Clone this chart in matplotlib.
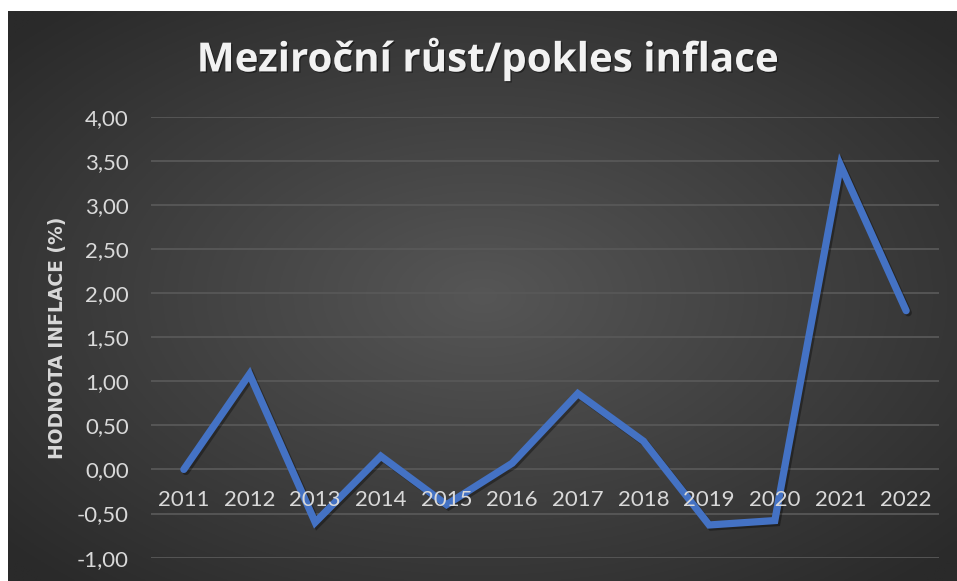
import numpy as np
import matplotlib
matplotlib.use("Agg")
import matplotlib.pyplot as plt
import matplotlib.patheffects as pe

years = ["2011", "2012", "2013", "2014", "2015", "2016",
         "2017", "2018", "2019", "2020", "2021", "2022"]
inflation = [0.00, 1.08, -0.60, 0.15, -0.40, 0.07,
             0.86, 0.32, -0.63, -0.58, 3.45, 1.80]
yticks = [-1.0, -0.5, 0.0, 0.5, 1.0, 1.5, 2.0, 2.5, 3.0, 3.5, 4.0]
title = "Meziroční růst/pokles inflace"
ylabel = "HODNOTA INFLACE (%)"

W, H = 957, 581
fig = plt.figure(figsize=(W / 100, H / 100), dpi=100, facecolor="white")

# dark radial gradient background
bg = fig.add_axes([8 / W, 0, (W - 8) / W, (H - 11) / H])
bg.set_axis_off()
gx, gy = np.meshgrid(np.linspace(-1, 1, 400), np.linspace(-1, 1, 300))
r = np.sqrt(gx ** 2 + gy ** 2)
r = np.clip(r / 1.35, 0, 1)
c0, c1 = 0x56 / 255, 0x2a / 255
val = c0 + (c1 - c0) * r
bg.imshow(np.dstack([val, val, val]), aspect="auto", extent=[0, 1, 0, 1])
bg.set_xlim(0, 1)
bg.set_ylim(0, 1)

left = 151 / W
right = 939 / W
top_px, bot_px = 116.7, 557.6
ax = fig.add_axes([left, (H - bot_px) / H, right - left, (bot_px - top_px) / H])
ax.patch.set_alpha(0)
for s in ax.spines.values():
    s.set_visible(False)
ax.set_xlim(-0.5, len(years) - 0.5)
ax.set_ylim(-1, 4)
ax.set_yticks(yticks)
ax.set_yticklabels([f"{v:.2f}".replace(".", ",") for v in yticks],
                   fontfamily="Lato", fontsize=16, color="#d9d9d9")
ax.tick_params(axis="y", length=0, pad=16)
ax.set_xticks([])
ax.grid(axis="y", color="#585858", linewidth=1.3)
ax.set_axisbelow(True)

x = np.arange(len(years))
ax.plot(x, inflation, color="#4472C4", linewidth=5.2, solid_joinstyle="miter",
        solid_capstyle="round", zorder=3,
        path_effects=[pe.SimpleLineShadow(offset=(1.5, -1.5), shadow_color="black", alpha=0.35),
                      pe.Normal()])

for i, yr in enumerate(years):
    ax.annotate(yr, (i, 0), xytext=(0, -31), textcoords="offset pixels",
                ha="center", va="center", fontfamily="Lato", fontsize=16,
                color="#d9d9d9", zorder=4)

fig.text(58 / W, 1 - 338 / H, ylabel, rotation=90, ha="center", va="center",
         fontfamily="DejaVu Sans", fontweight="bold", fontsize=13.5, color="#d9d9d9")

fig.text(487 / W, 1 - 59 / H, title, ha="center", va="center",
         fontfamily="Open Sans", fontweight="bold", fontsize=29, color="#f2f2f2",
         path_effects=[pe.withSimplePatchShadow(offset=(1, -1), shadow_rgbFace="black", alpha=0.4)])

fig.savefig("out.png", dpi=100, facecolor="white")
